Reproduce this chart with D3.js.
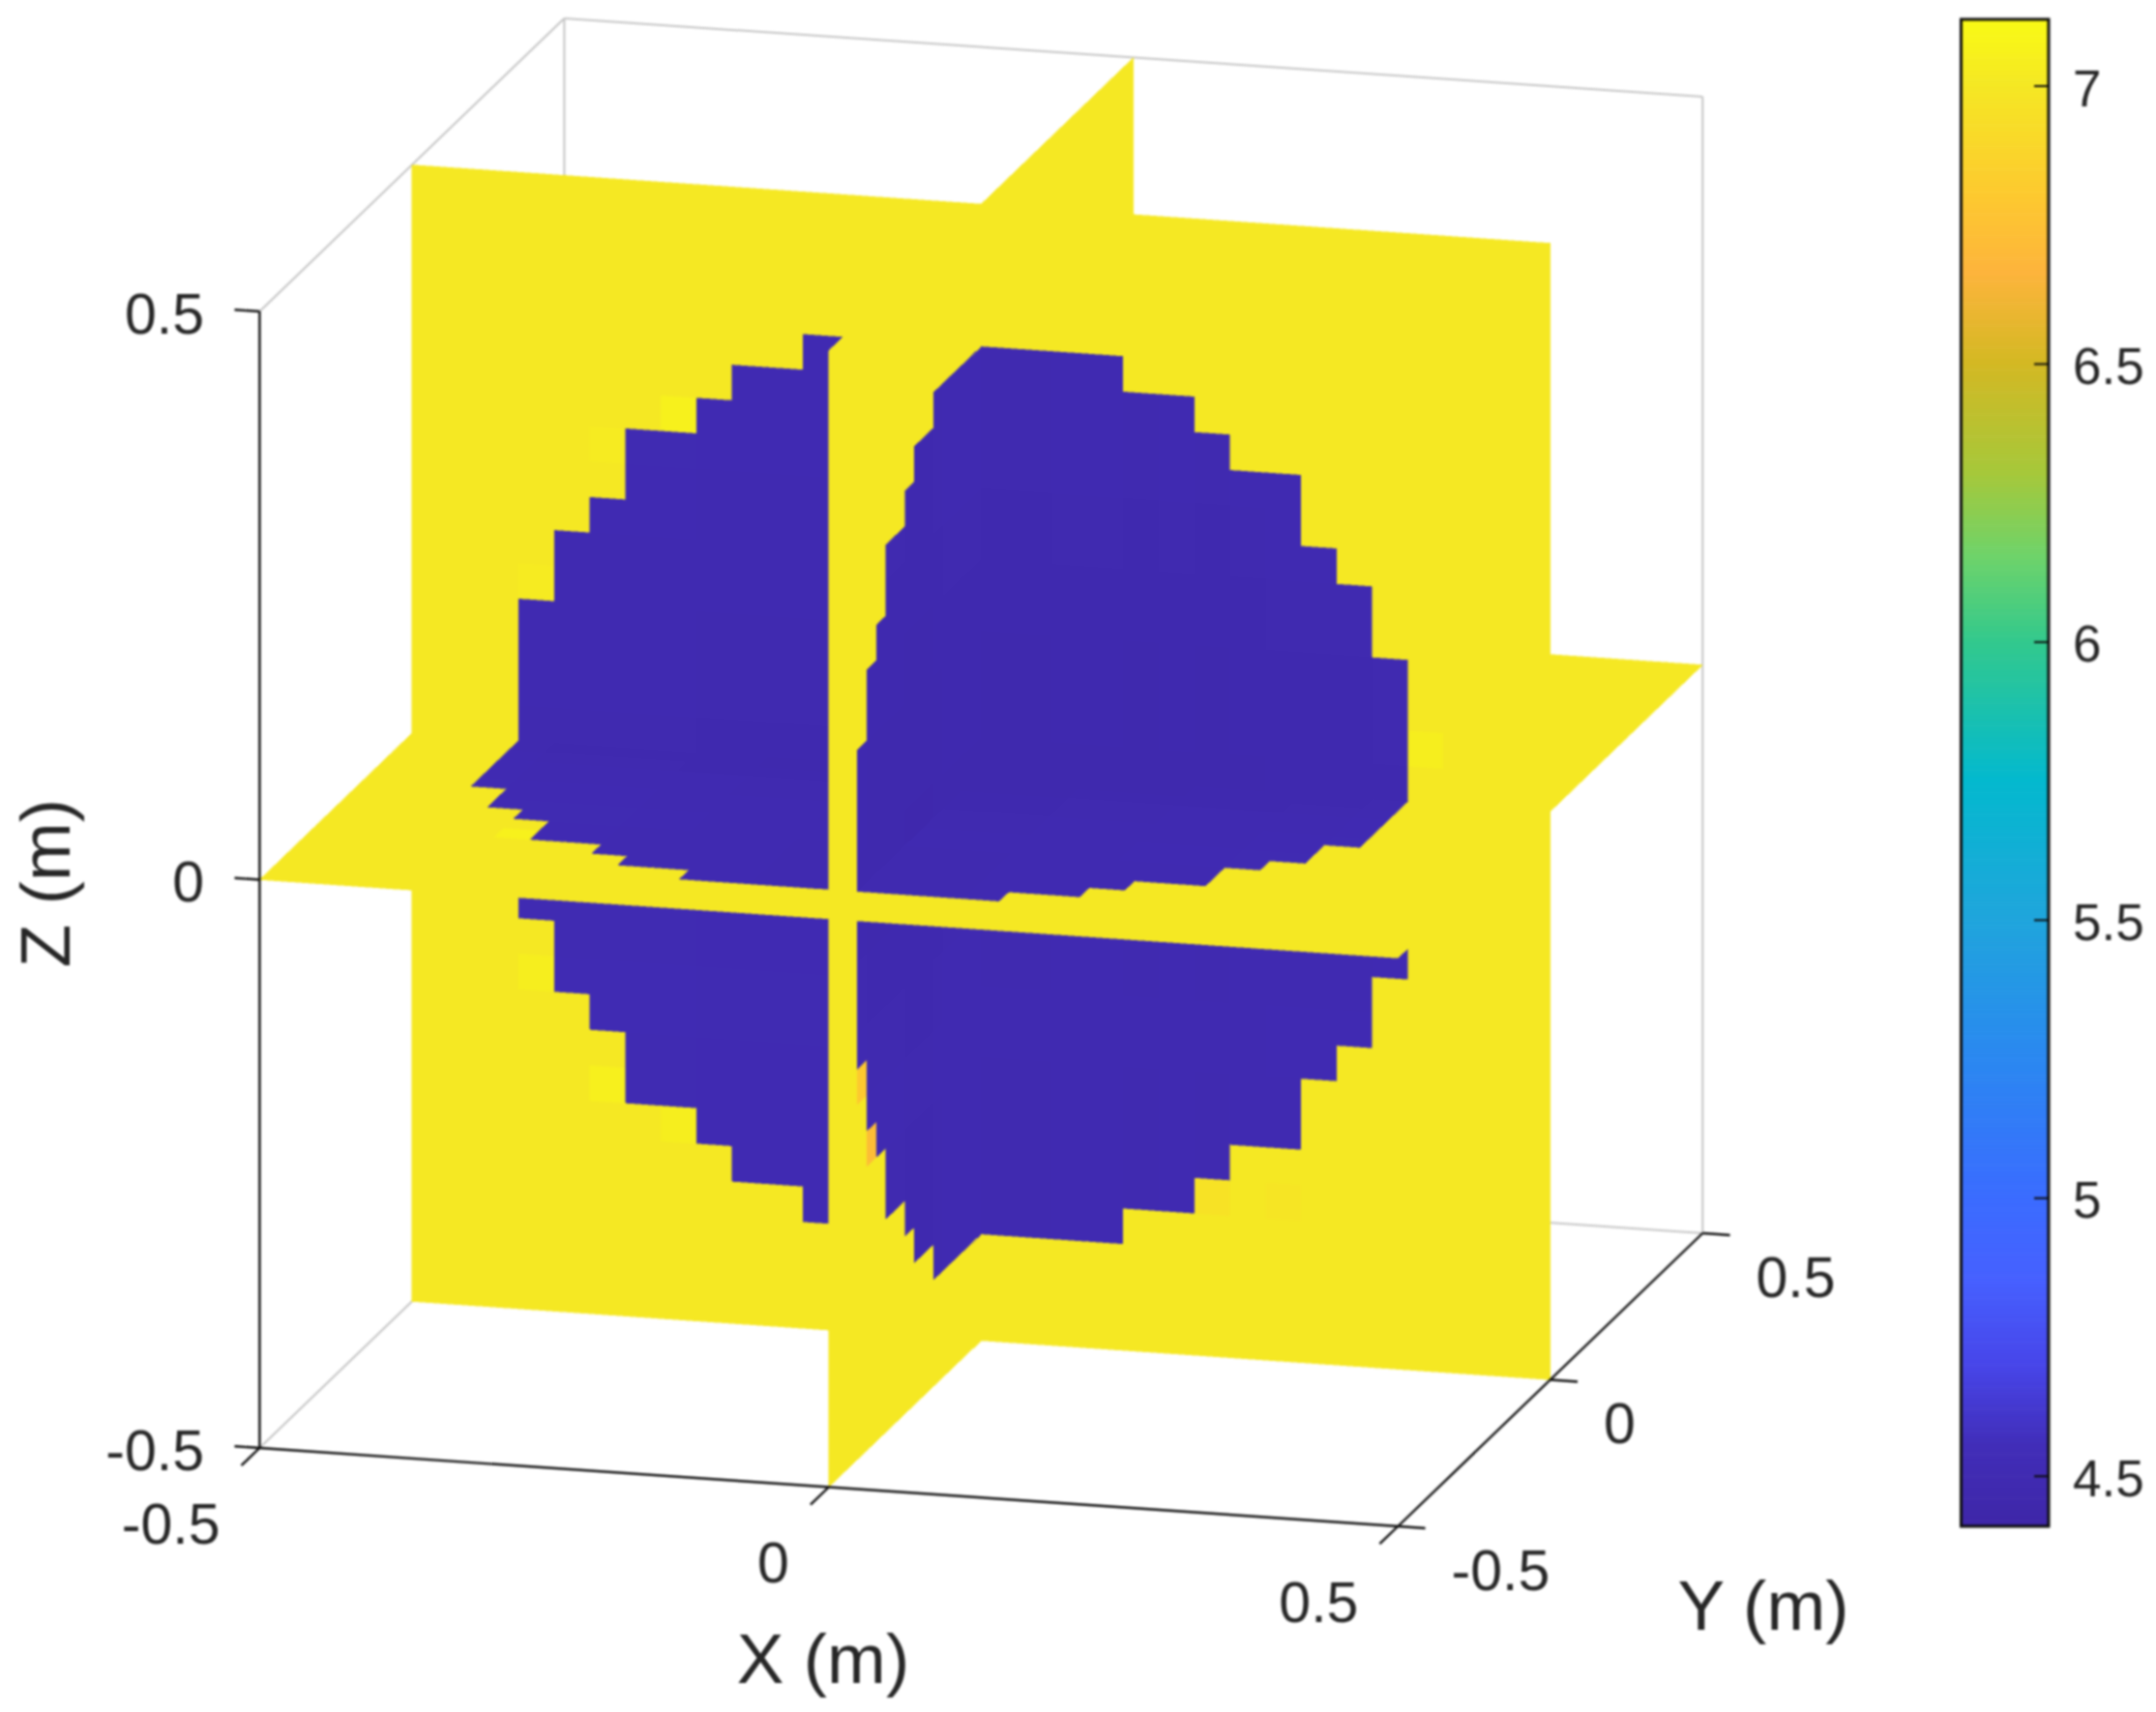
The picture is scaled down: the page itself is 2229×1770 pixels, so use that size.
<!DOCTYPE html>
<html>
<head>
<meta charset="utf-8">
<script src="https://cdn.jsdelivr.net/npm/d3@7"></script>
<style>
    html, body { margin: 0; padding: 0; background: #fff; }
    svg { display: block; filter: blur(1px); }
    text { font-family: "Liberation Sans", Arial, sans-serif; fill: #262626; }
</style>
</head>
<body>
<svg id="chart" width="2229" height="1770"></svg>
<script>
// Axis ticks of the 3-D box and of the colorbar.
var axisTicks = [-0.5, 0, 0.5];
var axisTickLabels = ["-0.5", "0", "0.5"];
var colorbarTicks = [4.5, 5, 5.5, 6, 6.5, 7];
var colorbarTickLabels = ["4.5", "5", "5.5", "6", "6.5", "7"];

// Colour map.
var colorValues = [4.41, 4.55, 4.7, 4.85, 5.0, 5.25, 5.5, 5.75, 6.0, 6.15, 6.3, 6.5, 6.66, 6.8, 7.0, 7.12];
var colorStops = ["#3e26a8", "#412db8", "#4746ea", "#4660ff", "#3a6cff", "#2a88f0", "#1fa5dc", "#03b9ce", "#33c98c", "#6ed36a", "#a6c83a", "#d4b823", "#fdb43c", "#fdc92f", "#f5e823", "#f9fb14"];

// The slices have 32 x 32 cells. For each column, the upper cell edge of the
// low velocity region; the region is symmetric, lower edge is 31 - top.
var cellCount = 32;
var regionTop = [0, 0, 0, 20, 22, 23, 25, 25, 26, 27, 27, 28, 28, 28, 28, 28, 28, 28, 28, 28, 27, 27, 26, 25, 25, 23, 22, 20, 0, 0, 0, 0];

// Value outside of the region.
var outerValue = 7.0;

// Values inside of the region, per column of each slice and per row.
var xzColumnValue = [4.5, 4.5, 4.5, 4.5, 4.5, 4.5, 4.5, 4.5, 4.49, 4.49, 4.49, 4.49, 4.5, 4.5, 4.5, 4.5, 4.46, 4.46, 4.47, 4.47, 4.46, 4.47, 4.46, 4.47, 4.48, 4.48, 4.48, 4.49, 4.5, 4.5, 4.5, 4.5];
var yzColumnValue = [4.5, 4.5, 4.5, 4.47, 4.46, 4.46, 4.46, 4.46, 4.45, 4.45, 4.45, 4.46, 4.47, 4.47, 4.47, 4.47, 4.47, 4.47, 4.47, 4.47, 4.47, 4.47, 4.47, 4.47, 4.47, 4.47, 4.47, 4.47, 4.47, 4.5, 4.5, 4.5];
var xyColumnValue = [4.5, 4.5, 4.5, 4.5, 4.49, 4.49, 4.49, 4.49, 4.48, 4.48, 4.47, 4.47, 4.47, 4.46, 4.46, 4.46, 4.46, 4.46, 4.46, 4.47, 4.47, 4.47, 4.48, 4.48, 4.48, 4.49, 4.49, 4.5, 4.5, 4.5, 4.5, 4.5];
var rowValue = [4.5, 4.5, 4.5, 4.5, 4.5, 4.5, 4.5, 4.5, 4.51, 4.51, 4.5, 4.5, 4.49, 4.49, 4.47, 4.46, 4.46, 4.47, 4.47, 4.47, 4.48, 4.48, 4.49, 4.49, 4.5, 4.5, 4.5, 4.5, 4.5, 4.5, 4.5, 4.5];

// Cells that stand out from the rest: [column, row, value].
var xzOddCells = [[3, 9, 7.04], [5, 6, 7.05], [7, 5, 7.04], [7, 25, 7.06], [5, 24, 7.02], [3, 20, 7.02], [28, 17, 7.04], [22, 4, 6.96], [24, 4, 6.98]];
var yzOddCells = [[3, 10, 6.8], [4, 8, 6.72]];
var xyOddCells = [[5, 6, 7.06]];

// Projection of the 3-D box on the screen, all scales in pixels.
var xToLeft = d3.scaleLinear().domain([-0.5, 0.5]).range([268.4, 1445.3]);
var xToTop = d3.scaleLinear().domain([-0.5, 0.5]).range([0, 81]);
var yToLeft = d3.scaleLinear().domain([-0.5, 0.5]).range([0, 315]);
var yToTop = d3.scaleLinear().domain([-0.5, 0.5]).range([0, -303]);
var zToTop = d3.scaleLinear().domain([-0.5, 0.5]).range([1497, 322]);
var cellToCoord = d3.scaleLinear().domain([0, cellCount]).range([-0.5, 0.5]);

var colorScale = d3.scaleLinear().domain(colorValues).range(colorStops).interpolate(d3.interpolateRgb);
var colorbarY = d3.scaleLinear().domain([4.41, 7.12]).range([1578, 20]);

function project(x, y, z) {
    return [xToLeft(x) + yToLeft(y), zToTop(z) + xToTop(x) + yToTop(y)];
}

function inRegion(col, row) {
    var top = regionTop[col];
    return top > 0 && row >= 31 - top && row < top;
}

// Builds the cells of one slice. place() turns a cell edge pair into x, y, z.
function sliceCells(columnValue, oddCells, place) {
    var cells = [];
    d3.range(cellCount).forEach(function(col) {
        d3.range(cellCount).forEach(function(row) {
            var value = outerValue;
            if (inRegion(col, row)) {
                value = (columnValue[col] + rowValue[row]) / 2;
            }
            oddCells.forEach(function(odd) {
                if (odd[0] === col && odd[1] === row) {
                    value = odd[2];
                }
            });
            var corners = [[col, row], [col + 1, row], [col + 1, row + 1], [col, row + 1]];
            cells.push({
                col: col,
                row: row,
                value: value,
                points: corners.map(function(c) {
                    return place(cellToCoord(c[0]), cellToCoord(c[1]));
                })
            });
        });
    });
    return cells;
}

var xzCells = sliceCells(xzColumnValue, xzOddCells, function(a, b) { return project(a, 0, b); });
var yzCells = sliceCells(yzColumnValue, yzOddCells, function(a, b) { return project(0, a, b); });
var xyCells = sliceCells(xyColumnValue, xyOddCells, function(a, b) { return project(a, b, 0); });

function pick(cells, test) {
    return cells.filter(test);
}

// Back to front. The camera sits on the +X, -Y, +Z side.
var paintOrder = [].concat(
    pick(xyCells, function(c) { return c.col < 16 && c.row >= 16; }),
    pick(xzCells, function(c) { return c.col < 16; }),
    pick(xyCells, function(c) { return c.col < 16 && c.row < 16; }),
    yzCells,
    pick(xyCells, function(c) { return c.col >= 16 && c.row >= 16; }),
    pick(xzCells, function(c) { return c.col >= 16; }),
    pick(xyCells, function(c) { return c.col >= 16 && c.row < 16; })
);

var svg = d3.select("#chart");

function drawSegment(group, from, to, color, width) {
    group.append("line")
        .attr("x1", from[0]).attr("y1", from[1])
        .attr("x2", to[0]).attr("y2", to[1])
        .attr("stroke", color)
        .attr("stroke-width", width);
}

// Grey back edges of the box, behind the slices.
var box = svg.append("g");
var boxEdges = [
    [[-0.5, -0.5, 0.5], [-0.5, 0.5, 0.5]],
    [[-0.5, 0.5, 0.5], [0.5, 0.5, 0.5]],
    [[0.5, 0.5, 0.5], [0.5, 0.5, -0.5]],
    [[-0.5, 0.5, 0.5], [-0.5, 0.5, -0.5]],
    [[-0.5, -0.5, -0.5], [-0.5, 0.5, -0.5]],
    [[-0.5, 0.5, -0.5], [0.5, 0.5, -0.5]]
];
boxEdges.forEach(function(edge) {
    drawSegment(box, project.apply(null, edge[0]), project.apply(null, edge[1]), "#c4c4c4", 2);
});

// Crisp edges: no seams between the cells, and the stepped outline of the original.
svg.append("g").attr("shape-rendering", "crispEdges").selectAll("polygon")
    .data(paintOrder)
    .join("polygon")
    .attr("points", function(d) { return d.points.map(function(p) { return p.join(","); }).join(" "); })
    .attr("fill", function(d) { return colorScale(d.value); })
    .attr("stroke", function(d) { return colorScale(d.value); })
    .attr("stroke-width", 0.5);

// Dark axes with their ticks.
var axes = svg.append("g");
var axisColor = "#0c0c0c";
var tickFont = 59;
drawSegment(axes, project(-0.5, -0.5, -0.5), project(-0.5, -0.5, 0.5), axisColor, 2.4);
drawSegment(axes, project(-0.5, -0.5, -0.5), project(0.5, -0.5, -0.5), axisColor, 2.4);
drawSegment(axes, project(0.5, -0.5, -0.5), project(0.5, 0.5, -0.5), axisColor, 2.4);

axisTicks.forEach(function(t, i) {
    // X ticks point along -Y, and their labels hang below the tick end.
    var xBase = project(t, -0.5, -0.5);
    var xEnd = project(t, -0.5 - 0.06, -0.5);
    drawSegment(axes, xBase, xEnd, axisColor, 2.4);
    axes.append("text")
        .attr("x", xEnd[0] - 22)
        .attr("y", xBase[1] + 78)
        .attr("dy", "0.35em")
        .attr("text-anchor", "end")
        .attr("font-size", tickFont)
        .text(axisTickLabels[i]);

    // Y ticks point along +X.
    var yBase = project(0.5, t, -0.5);
    var yEnd = project(0.5 + 0.024, t, -0.5);
    drawSegment(axes, yBase, yEnd, axisColor, 2.4);
    axes.append("text")
        .attr("x", yEnd[0] + 27)
        .attr("y", yBase[1] + 45)
        .attr("dy", "0.35em")
        .attr("font-size", tickFont)
        .text(axisTickLabels[i]);

    // Z ticks point along -X.
    var zBase = project(-0.5, -0.5, t);
    var zEnd = project(-0.5 - 0.022, -0.5, t);
    drawSegment(axes, zBase, zEnd, axisColor, 2.4);
    axes.append("text")
        .attr("x", 211)
        .attr("y", zBase[1] + 2)
        .attr("dy", "0.35em")
        .attr("text-anchor", "end")
        .attr("font-size", tickFont)
        .text(axisTickLabels[i]);
});

// Axis titles.
var titleFont = 73;
axes.append("text").attr("x", 851).attr("y", 1740).attr("text-anchor", "middle").attr("font-size", titleFont).text("X (m)");
axes.append("text").attr("x", 1823).attr("y", 1685).attr("text-anchor", "middle").attr("font-size", titleFont).text("Y (m)");
axes.append("text")
    .attr("transform", "translate(72,913) rotate(-90)")
    .attr("text-anchor", "middle")
    .attr("font-size", titleFont)
    .text("Z (m)");

// Colorbar.
var colorbar = svg.append("g");
var barLeft = 2027.5;
var barRight = 2118;
var barSteps = d3.range(4.41, 7.12, 0.01);
colorbar.selectAll("rect.step")
    .data(barSteps)
    .join("rect")
    .attr("class", "step")
    .attr("x", barLeft)
    .attr("width", barRight - barLeft)
    .attr("y", function(d) { return colorbarY(d + 0.01); })
    .attr("height", function(d) { return colorbarY(d) - colorbarY(d + 0.01) + 0.6; })
    .attr("fill", function(d) { return colorScale(d); });
colorbar.append("rect")
    .attr("x", barLeft)
    .attr("y", colorbarY(7.12))
    .attr("width", barRight - barLeft)
    .attr("height", colorbarY(4.41) - colorbarY(7.12))
    .attr("fill", "none")
    .attr("stroke", axisColor)
    .attr("stroke-width", 3);

colorbarTicks.forEach(function(t, i) {
    drawSegment(colorbar, [barRight - 15, colorbarY(t)], [barRight, colorbarY(t)], axisColor, 2);
    colorbar.append("text")
        .attr("x", 2143)
        .attr("y", colorbarY(t) + 2)
        .attr("dy", "0.35em")
        .attr("font-size", 53)
        .text(colorbarTickLabels[i]);
});
</script>
</body>
</html>
